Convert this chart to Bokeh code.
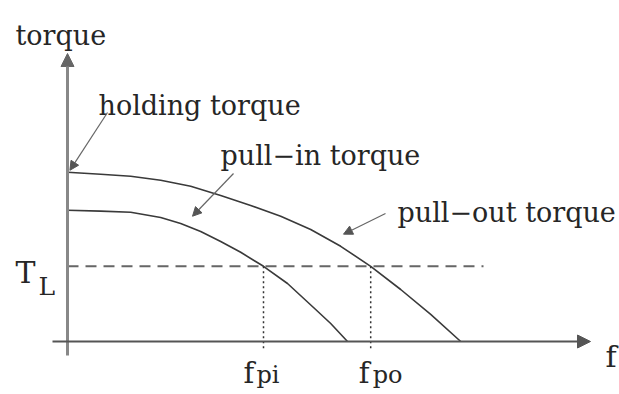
import numpy as np
from bokeh.plotting import figure
from bokeh.models import ColumnDataSource, Arrow, NormalHead, Range1d
from bokeh.core.properties import value
from bokeh.embed import file_html
from bokeh.resources import INLINE

# ---- data (frequency f, torque T; arbitrary units) ----
pull_out_f = [0.0, 0.83, 1.58, 2.33, 3.08, 3.83, 4.58, 5.33, 6.08, 6.83, 7.58, 8.33, 9.08, 9.83]
pull_out_T = [4.23, 4.18, 4.13, 4.03, 3.88, 3.65, 3.4, 3.13, 2.8, 2.38, 1.88, 1.3, 0.68, 0.0]
pull_in_f = [0.0, 0.83, 1.58, 2.33, 2.83, 3.33, 3.83, 4.33, 4.9, 5.5, 6.15, 6.58, 7.0]
pull_in_T = [3.28, 3.26, 3.23, 3.1, 2.95, 2.75, 2.5, 2.23, 1.88, 1.45, 0.85, 0.45, 0.0]
T_L = 1.88
f_pi = 4.9
f_po = 7.58
holding_T = pull_out_T[0]

labels = ["torque", "holding torque", "pull\u2212in torque", "pull\u2212out torque"]
label_x = [-1.3, 0.775, 3.825, 8.25]
label_y = [7.65, 5.9, 4.65, 3.225]

FONT = value("DejaVu Serif")
INK = "#262626"

p = figure(width=619, height=394, output_backend="svg", toolbar_location=None,
           x_axis_type=None, y_axis_type=None, min_border=0,
           x_range=Range1d(-1.675, 13.8), y_range=Range1d(-1.325, 8.525),
           outline_line_color=None, background_fill_color="white",
           border_fill_color="white")
p.grid.visible = False

# axes drawn as arrows
p.add_layout(Arrow(end=NormalHead(size=13, fill_color="#666666", line_color="#666666"),
                   x_start=0, y_start=-0.35, x_end=0, y_end=7.2,
                   line_color="#888888", line_width=3))
p.add_layout(Arrow(end=NormalHead(size=13, fill_color="#555555", line_color="#555555"),
                   x_start=-0.375, y_start=0, x_end=13.075, y_end=0,
                   line_color="#555555", line_width=2))

# T_L dashed line
p.line([0, 10.4], [T_L, T_L], line_color="#666666", line_width=2, line_dash="11 7")
# dotted verticals at f_pi, f_po
p.line([f_pi, f_pi], [T_L, -0.225], line_color="#333333", line_width=1.5, line_dash="2 3")
p.line([f_po, f_po], [T_L, -0.225], line_color="#333333", line_width=1.5, line_dash="2 3")

# curves
p.line(pull_out_f, pull_out_T, line_color="#3a3a3a", line_width=1.6, line_join="round")
p.line(pull_in_f, pull_in_T, line_color="#3a3a3a", line_width=1.6, line_join="round")

# annotation arrows
def pointer(x0, y0, x1, y1):
    p.add_layout(Arrow(end=NormalHead(size=9, fill_color="#555555", line_color="#555555"),
                       x_start=x0, y_start=y0, x_end=x1, y_end=y1,
                       line_color="#666666", line_width=1.2))

pointer(1.0, 5.725, 0.06, holding_T + 0.05)
pointer(4.15, 4.2, 3.125, np.interp(3.125, pull_in_f, pull_in_T) + 0.3)
pointer(7.95, 3.2, 6.9, np.interp(6.9, pull_out_f, pull_out_T) + 0.35)

# labels
src = ColumnDataSource(dict(x=label_x, y=label_y, t=labels))
p.text("x", "y", text="t", source=src, text_font=FONT, text_font_size="27px",
       text_color=INK, text_align="left", text_baseline="alphabetic")

# T_L label
p.text([-1.3], [1.725], text=["T"], text_font=FONT, text_font_size="30px",
       text_color=INK, text_baseline="alphabetic")
p.text([-0.725], [1.375], text=["L"], text_font=FONT, text_font_size="25px",
       text_color=INK, text_baseline="alphabetic")

# f_pi, f_po labels
p.text([f_pi - 0.5, f_po - 0.3], [-0.78, -0.78], text=["f", "f"], text_font=FONT,
       text_font_size="29px", text_color=INK, text_baseline="alphabetic")
p.text([f_pi - 0.175, f_po + 0.05], [-0.83, -0.83], text=["pi", "po"], text_font=FONT,
       text_font_size="24px", text_color=INK, text_baseline="alphabetic")

# f axis label
p.text([13.45], [-0.375], text=["f"], text_font=FONT, text_font_size="30px",
       text_color=INK, text_baseline="alphabetic")

open("out.html", "w").write(file_html(p, INLINE))
